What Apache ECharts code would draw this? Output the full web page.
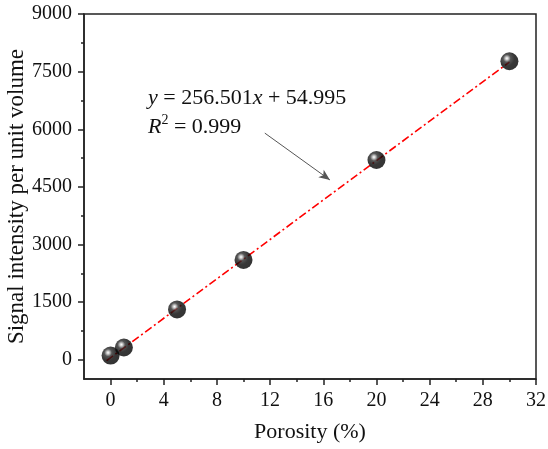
<!DOCTYPE html>
<html>
<head>
<meta charset="utf-8">
<script src="https://cdn.jsdelivr.net/npm/echarts@6/dist/echarts.min.js"></script>
<style>
  html, body { margin: 0; padding: 0; background: #fff; }
  #chart { width: 548px; height: 449px; }
</style>
</head>
<body>
<div id="chart"></div>
<script>
// 数据
const porosity = [0, 1, 5, 10, 20, 30]
const signal = [110, 320, 1310, 2600, 5200, 7770]
// 拟合直线的两个端点
const fitX = [-0.3, 30]
const fitY = [-22, 7750]
// 刻度
const xTicks = [0, 4, 8, 12, 16, 20, 24, 28, 32]
const xMinor = [2, 6, 10, 14, 18, 22, 26, 30]
const yTicks = [0, 1500, 3000, 4500, 6000, 7500, 9000]
const yMinor = [750, 2250, 3750, 5250, 6750, 8250]
// 箭头起止（数据坐标）
const arrowFrom = [11.6, 5900]
const arrowTo = [16.5, 4680]

const serif = 'Liberation Serif'
const chart = echarts.init(document.getElementById('chart'))

// 黑色小球的径向渐变
const sphere = {
  type: 'radial', x: 0.36, y: 0.34, r: 0.7,
  colorStops: [
    { offset: 0, color: '#ffffff' },
    { offset: 0.1, color: '#c8c8c8' },
    { offset: 0.3, color: '#2a2a2a' },
    { offset: 0.6, color: '#050505' },
    { offset: 1, color: '#000' }
  ]
}

const tickStyle = { color: '#222', width: 1.5 }
const axisLine = { show: true, onZero: false, lineStyle: tickStyle }

chart.setOption({
  animation: false,
  textStyle: { fontFamily: serif },
  grid: {
    left: 84, right: 12, top: 14, bottom: 70,
    outerBoundsMode: 'none',
    containLabel: false,
    show: true, borderColor: '#222', borderWidth: 1.5
  },
  xAxis: [
    {
      type: 'value', min: -2, max: 32,
      axisLine: axisLine,
      splitLine: { show: false },
      axisTick: { show: true, customValues: xTicks, length: 6, lineStyle: tickStyle },
      axisLabel: { customValues: xTicks, color: '#111', fontSize: 20, fontFamily: serif, margin: 12 },
      name: 'Porosity (%)', nameLocation: 'middle', nameGap: 42,
      nameTextStyle: { fontSize: 22, color: '#111', fontFamily: serif }
    },
    {
      // 次刻度
      type: 'value', min: -2, max: 32, position: 'bottom',
      axisLine: { show: false, onZero: false },
      splitLine: { show: false },
      axisTick: { show: true, customValues: xMinor, length: 3, lineStyle: tickStyle },
      axisLabel: { show: false }
    }
  ],
  yAxis: [
    {
      type: 'value', min: -500, max: 9000,
      axisLine: axisLine,
      splitLine: { show: false },
      axisTick: { show: true, customValues: yTicks, length: 6, lineStyle: tickStyle },
      axisLabel: {
        customValues: yTicks, color: '#111', fontSize: 20, fontFamily: serif, margin: 12,
        formatter: v => String(v)
      },
      name: 'Signal intensity per unit volume', nameLocation: 'middle', nameGap: 56,
      nameMoveOverlap: false,
      nameTextStyle: { fontSize: 23, color: '#111', fontFamily: serif }
    },
    {
      // 次刻度
      type: 'value', min: -500, max: 9000, position: 'left',
      axisLine: { show: false, onZero: false },
      splitLine: { show: false },
      axisTick: { show: true, customValues: yMinor, length: 3, lineStyle: tickStyle },
      axisLabel: { show: false }
    }
  ],
  series: [
    {
      name: 'fit',
      type: 'line',
      data: fitX.map((x, i) => [x, fitY[i]]),
      showSymbol: false,
      lineStyle: { color: '#ff0000', width: 1.6, type: [8, 3, 2, 3] },
      z: 2,
      markLine: {
        silent: true,
        symbol: ['none', 'arrow'],
        symbolSize: [7, 11],
        label: { show: false },
        lineStyle: { color: '#555', width: 1, type: 'solid' },
        data: [[{ coord: arrowFrom }, { coord: arrowTo }]]
      }
    },
    {
      name: 'data',
      type: 'scatter',
      data: porosity.map((x, i) => [x, signal[i]]),
      symbolSize: 18,
      itemStyle: { color: sphere },
      z: 3
    }
  ],
  graphic: [
    {
      type: 'text',
      left: 148, top: 84,
      style: {
        text: '{i|y} = 256.501{i|x} + 54.995\n{i|R}{sup|2} = 0.999',
        fontFamily: serif,
        fontSize: 22,
        lineHeight: 29,
        fill: '#111',
        rich: {
          i: { fontStyle: 'italic', fontFamily: serif, fontSize: 22, fill: '#111' },
          sup: { fontFamily: serif, fontSize: 14, fill: '#111', verticalAlign: 'top', lineHeight: 22 }
        }
      }
    }
  ]
})
</script>
</body>
</html>
